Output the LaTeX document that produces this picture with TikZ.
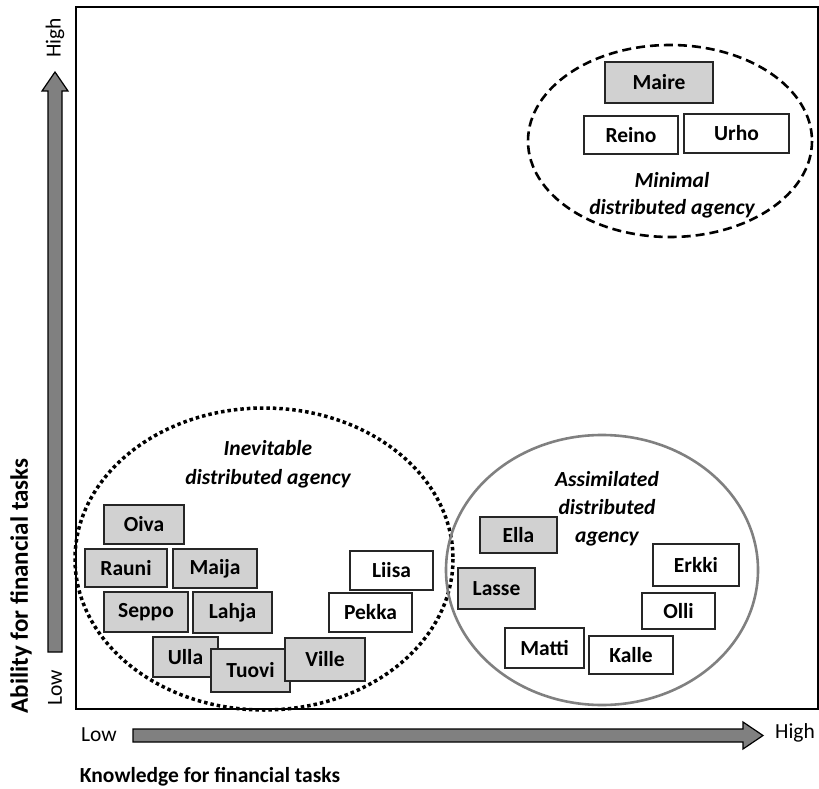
\documentclass[tikz,border=0pt]{standalone}
\usepackage{fontspec}
\setmainfont{Carlito}
\usepackage{tikz}

\tikzset{
  person/.style={draw=black!85, line width=1.1pt, inner sep=0pt,
    font=\fontsize{21.5}{24}\selectfont\bfseries},
  grey/.style={person, fill=black!18},
  white/.style={person, fill=white},
  grouplabel/.style={align=center, font=\fontsize{21.5}{28}\selectfont\bfseries\itshape},
  axislabel/.style={font=\fontsize{21.5}{24}\selectfont\bfseries},
  endlabel/.style={font=\fontsize{21.5}{24}\selectfont}
}

\begin{document}
\begin{tikzpicture}[x=1pt, y=-1pt]
\useasboundingbox (0,0) rectangle (819,789);

% frame
\draw[line width=1.2pt] (76,7) rectangle (818,709);

% axes
\draw[fill=black!50, line width=1.2pt] (48,652) -- (48,91) -- (42,91) -- (55,72) -- (68,91) -- (62,91) -- (62,652) -- cycle;
\draw[fill=black!50, line width=1.2pt] (133,729) -- (743,729) -- (743,722) -- (763,735.5) -- (743,749) -- (743,742) -- (133,742) -- cycle;
\node[endlabel, rotate=90] (yhigh) at (55,38) {High};
\node[endlabel, rotate=90] (ylow) at (55,688) {Low};
\node[endlabel] (xlow) at (99,735) {Low};
\node[endlabel] (xhigh) at (795,733) {High};
\node[axislabel, rotate=90, font=\fontsize{25}{28}\selectfont\bfseries] (ylabel) at (21,586) {Ability for financial tasks};
\node[axislabel] (xlabel) at (210,777) {Knowledge for financial tasks};

% groups
\draw[line width=2.6pt, dash pattern=on 9pt off 5pt] (670,141) ellipse (142 and 96);
\draw[line width=3.5pt, dash pattern=on 3.5pt off 3pt] (264,559) ellipse (189 and 151);
\draw[line width=2.6pt, draw=black!50] (602,570) ellipse (156 and 135);

\node[grouplabel, font=\fontsize{21.5}{27}\selectfont\bfseries\itshape] (minimal) at (672,195) {Minimal\\distributed agency};
\node[grouplabel, font=\fontsize{21.5}{29}\selectfont\bfseries\itshape] (inevitable) at (268,464) {Inevitable\\distributed agency};
\node[grouplabel] (assimilated) at (607,509) {Assimilated\\distributed\\agency};

% minimal
\node[grey, minimum width=108pt, minimum height=41pt] (maire) at (659,82.5) {Maire};
\node[white, minimum width=94pt, minimum height=38pt] (reino) at (631,135) {Reino};
\node[white, minimum width=105pt, minimum height=39pt] (urho) at (736.5,133.5) {Urho};

% inevitable
\node[grey, minimum width=80pt, minimum height=39pt] (oiva) at (144,524.5) {Oiva};
\node[grey, minimum width=82pt, minimum height=38pt] (rauni) at (126,568) {Rauni};
\node[grey, minimum width=84pt, minimum height=39pt] (maija) at (215,568.5) {Maija};
\node[grey, minimum width=84pt, minimum height=40pt] (seppo) at (146,612) {Seppo};
\node[grey, minimum width=79pt, minimum height=41pt] (lahja) at (232.5,612.5) {Lahja};
\node[grey, minimum width=65pt, minimum height=40pt] (ulla) at (185.5,657) {Ulla};
\node[grey, minimum width=79pt, minimum height=43pt] (tuovi) at (250.5,670.5) {Tuovi};
\node[grey, minimum width=80pt, minimum height=43pt] (ville) at (325,659.5) {Ville};
\node[white, minimum width=83pt, minimum height=39pt] (liisa) at (391.5,570.5) {Liisa};
\node[white, minimum width=83pt, minimum height=39pt] (pekka) at (370.5,612.5) {Pekka};

% assimilated
\node[grey, minimum width=77pt, minimum height=36pt] (ella) at (518.5,535) {Ella};
\node[grey, minimum width=77pt, minimum height=41pt] (lasse) at (496.5,588.5) {Lasse};
\node[white, minimum width=86pt, minimum height=42pt] (erkki) at (696,565) {Erkki};
\node[white, minimum width=73pt, minimum height=36pt] (olli) at (678.5,611) {Olli};
\node[white, minimum width=79pt, minimum height=40pt] (matti) at (544.5,648) {Matti};
\node[white, minimum width=84pt, minimum height=38pt] (kalle) at (631,655) {Kalle};
\end{tikzpicture}
\end{document}
